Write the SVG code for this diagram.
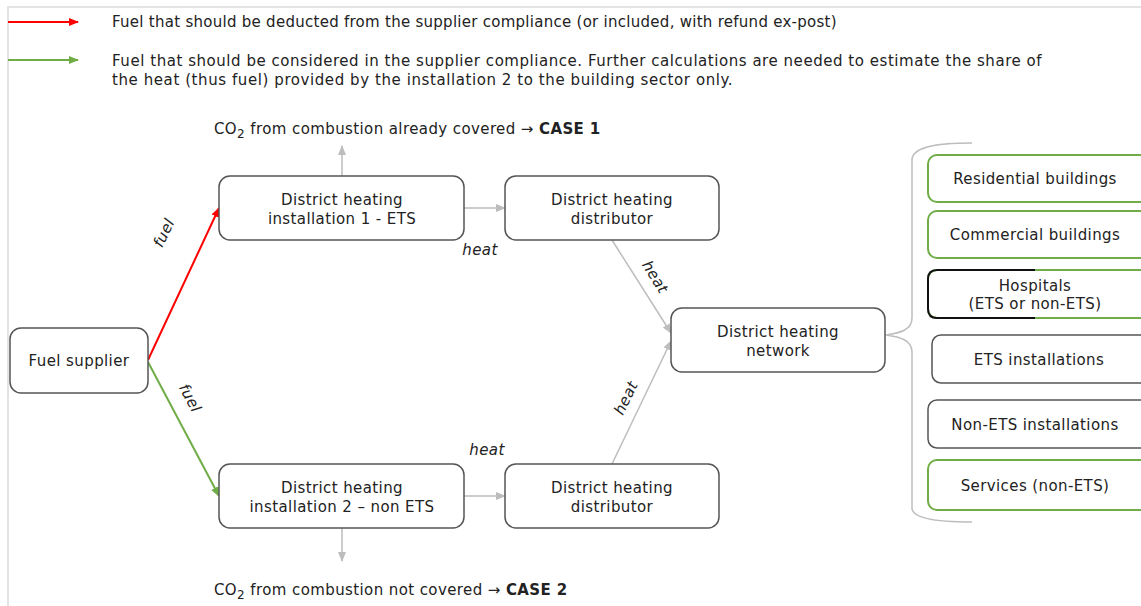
<svg xmlns="http://www.w3.org/2000/svg" width="1141" height="606" viewBox="0 0 1141 606">
<style>
text{font-family:"DejaVu Sans","Liberation Sans",sans-serif;font-size:15px;letter-spacing:0.4px;fill:#222}
.lbl{text-anchor:middle}
.it{font-style:italic}
.box{fill:#fff;stroke:#555;stroke-width:1.5}
.gbox{fill:#fff;stroke:#70ad47;stroke-width:2}
.gray{stroke:#bdbdbd;stroke-width:1.5;fill:none}
</style>
<defs>
<marker id="ag" markerUnits="userSpaceOnUse" markerWidth="10" markerHeight="10" viewBox="0 0 10 10" refX="9" refY="5" orient="auto"><path d="M0,1 L10,5 L0,9 Z" fill="#bdbdbd"/></marker>
<marker id="ar" markerUnits="userSpaceOnUse" markerWidth="10" markerHeight="10" viewBox="0 0 10 10" refX="9" refY="5" orient="auto"><path d="M0,1 L10,5 L0,9 Z" fill="#ff0000"/></marker>
<marker id="agr" markerUnits="userSpaceOnUse" markerWidth="10" markerHeight="10" viewBox="0 0 10 10" refX="9" refY="5" orient="auto"><path d="M0,1 L10,5 L0,9 Z" fill="#70ad47"/></marker>
</defs>
<rect x="0" y="0" width="1141" height="606" fill="#fff"/>
<path d="M8,606 L8,7 L1141,7" fill="none" stroke="#dcdcdc" stroke-width="1.5"/>

<g id="legend">
<line x1="8" y1="22" x2="78" y2="22" stroke="#ff0000" stroke-width="2" marker-end="url(#ar)"/>
<line x1="8" y1="60" x2="78" y2="60" stroke="#70ad47" stroke-width="2" marker-end="url(#agr)"/>
<text x="112" y="27" textLength="725" lengthAdjust="spacing">Fuel that should be deducted from the supplier compliance (or included, with refund ex-post)</text>
<text x="112" y="66" textLength="930" lengthAdjust="spacing">Fuel that should be considered in the supplier compliance. Further calculations are needed to estimate the share of</text>
<text x="112" y="85" textLength="621" lengthAdjust="spacing">the heat (thus fuel) provided by the installation 2 to the building sector only.</text>
</g>

<g id="connectors">
<line x1="148" y1="360" x2="219" y2="208" stroke="#ff0000" stroke-width="2" marker-end="url(#ar)"/>
<line x1="148" y1="362" x2="219" y2="496" stroke="#70ad47" stroke-width="2" marker-end="url(#agr)"/>
<line class="gray" x1="342" y1="176" x2="342" y2="146" marker-end="url(#ag)"/>
<line class="gray" x1="342" y1="528" x2="342" y2="561" marker-end="url(#ag)"/>
<line class="gray" x1="464" y1="208" x2="505" y2="208" marker-end="url(#ag)"/>
<line class="gray" x1="464" y1="496" x2="505" y2="496" marker-end="url(#ag)"/>
<line class="gray" x1="612" y1="240" x2="671" y2="333" marker-end="url(#ag)"/>
<line class="gray" x1="612" y1="464" x2="671" y2="341" marker-end="url(#ag)"/>
<path class="gray" d="M972,143 C940,143 912,146 912,160 L912,318 C912,330 900,333 886,335 C900,337 912,340 912,352 L912,508 C912,519 940,522 972,522"/>
<text class="lbl it" transform="translate(164,233) rotate(-64)" dominant-baseline="central">fuel</text>
<text class="lbl it" transform="translate(190,398) rotate(62)" dominant-baseline="central">fuel</text>
<text class="lbl it" x="480" y="255">heat</text>
<text class="lbl it" x="487" y="455">heat</text>
<text class="lbl it" transform="translate(655,277) rotate(58)" dominant-baseline="central">heat</text>
<text class="lbl it" transform="translate(626,398) rotate(-64)" dominant-baseline="central">heat</text>
</g>

<g id="co2-top">
<text x="214" y="134">CO<tspan font-size="12" dy="4">2</tspan><tspan dy="-4"> from combustion already covered → </tspan><tspan font-weight="bold">CASE 1</tspan></text>
</g>
<g id="co2-bottom">
<text x="214" y="595">CO<tspan font-size="12" dy="4">2</tspan><tspan dy="-4"> from combustion not covered → </tspan><tspan font-weight="bold">CASE 2</tspan></text>
</g>

<g id="fuel-supplier">
<rect class="box" x="10" y="328" width="138" height="65" rx="11"/>
<text class="lbl" x="79" y="366">Fuel supplier</text>
</g>
<g id="installation-1">
<rect class="box" x="219" y="176" width="245" height="64" rx="11"/>
<text class="lbl" x="342" y="205">District heating</text>
<text class="lbl" x="342" y="224">installation 1 - ETS</text>
</g>
<g id="distributor-1">
<rect class="box" x="505" y="176" width="214" height="64" rx="11"/>
<text class="lbl" x="612" y="205">District heating</text>
<text class="lbl" x="612" y="224">distributor</text>
</g>
<g id="network">
<rect class="box" x="671" y="308" width="214" height="64" rx="11"/>
<text class="lbl" x="778" y="337">District heating</text>
<text class="lbl" x="778" y="356">network</text>
</g>
<g id="installation-2">
<rect class="box" x="219" y="464" width="245" height="64" rx="11"/>
<text class="lbl" x="342" y="493">District heating</text>
<text class="lbl" x="342" y="512">installation 2 – non ETS</text>
</g>
<g id="distributor-2">
<rect class="box" x="505" y="464" width="214" height="64" rx="11"/>
<text class="lbl" x="612" y="493">District heating</text>
<text class="lbl" x="612" y="512">distributor</text>
</g>

<g id="residential">
<rect class="gbox" x="928" y="155" width="222" height="47" rx="9"/>
<text class="lbl" x="1035" y="184">Residential buildings</text>
</g>
<g id="commercial">
<rect class="gbox" x="928" y="211" width="222" height="47" rx="9"/>
<text class="lbl" x="1035" y="240">Commercial buildings</text>
</g>
<g id="hospitals">
<rect class="gbox" x="928" y="270" width="222" height="48" rx="9"/>
<path d="M1035,270 L937,270 Q928,270 928,279 L928,309 Q928,318 937,318 L1035,318" fill="none" stroke="#111" stroke-width="2"/>
<text class="lbl" x="1035" y="291">Hospitals</text>
<text class="lbl" x="1035" y="309">(ETS or non-ETS)</text>
</g>
<g id="ets-installations">
<rect class="box" x="932" y="335" width="218" height="48" rx="9"/>
<text class="lbl" x="1039" y="365">ETS installations</text>
</g>
<g id="non-ets-installations">
<rect class="box" x="928" y="400" width="222" height="48" rx="9"/>
<text class="lbl" x="1035" y="430">Non-ETS installations</text>
</g>
<g id="services">
<rect class="gbox" x="928" y="460" width="222" height="50" rx="9"/>
<text class="lbl" x="1035" y="491">Services (non-ETS)</text>
</g>
</svg>
